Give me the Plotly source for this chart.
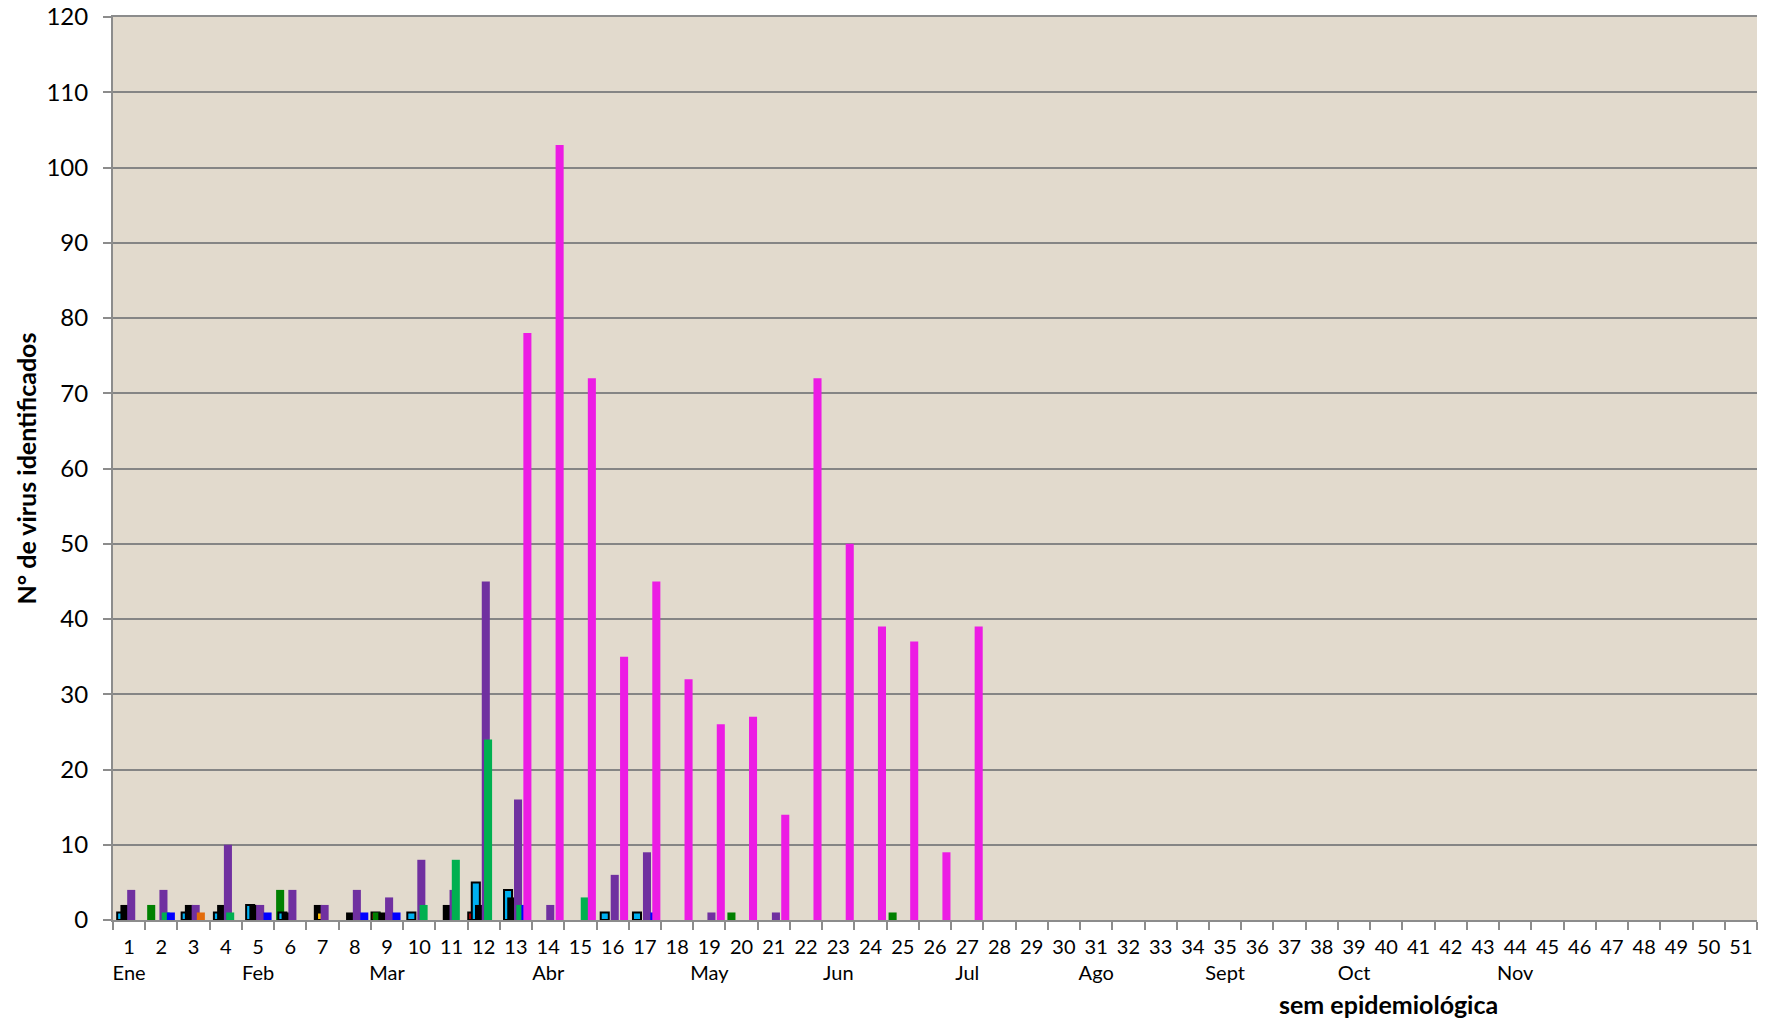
import plotly.graph_objects as go

weeks = [str(i) for i in range(1, 52)]
months = {1: "Ene", 5: "Feb", 9: "Mar", 14: "Abr", 19: "May", 23: "Jun", 27: "Jul",
          31: "Ago", 35: "Sept", 39: "Oct", 44: "Nov"}

def sparse(d):
    return [d.get(i, 0) for i in range(1, 52)]

red_vals = sparse({9: 1, 12: 1})
dark_green_vals = sparse({2: 2, 6: 4, 9: 1, 20: 1, 25: 1})
light_blue_vals = sparse({1: 1, 3: 1, 4: 1, 5: 2, 6: 1, 10: 1, 12: 5, 13: 4, 16: 1, 17: 1})
black_vals = sparse({1: 2, 3: 2, 4: 2, 5: 2, 6: 1, 7: 2, 8: 1, 9: 1, 11: 2, 12: 2, 13: 3})
yellow_vals = sparse({7: 1})
purple_vals = sparse({1: 4, 2: 4, 3: 2, 4: 10, 5: 2, 6: 4, 7: 2, 8: 4, 9: 3, 10: 8, 11: 4,
                      12: 45, 13: 16, 14: 2, 16: 6, 17: 9, 19: 1, 21: 1})
light_green_vals = sparse({2: 1, 4: 1, 10: 2, 11: 8, 12: 24, 13: 2, 15: 3})
orange_vals = sparse({3: 1})
blue_vals = sparse({2: 1, 5: 1, 8: 1, 9: 1, 13: 2, 17: 1})
magenta_vals = sparse({13: 78, 14: 103, 15: 72, 16: 35, 17: 45, 18: 32, 19: 26, 20: 27,
                       21: 14, 22: 72, 23: 50, 24: 39, 25: 37, 26: 9, 27: 39})

series = [
    ("red", red_vals, "#C00000", -0.48, True),
    ("dark_green", dark_green_vals, "#008000", -0.44, False),
    ("light_blue", light_blue_vals, "#00B0F0", -0.37, True),
    ("black", black_vals, "#000000", -0.27, False),
    ("yellow", yellow_vals, "#FFC000", -0.17, True),
    ("purple", purple_vals, "#7030A0", -0.06, False),
    ("light_green", light_green_vals, "#00B050", 0.01, False),
    ("orange", orange_vals, "#E46C0A", 0.10, False),
    ("blue", blue_vals, "#0000FF", 0.17, False),
    ("magenta", magenta_vals, "#EC1CE4", 0.23, False),
]

fig = go.Figure()
for name, vals, color, off, outline in series:
    fig.add_trace(go.Bar(
        x=weeks, y=[v if v else None for v in vals], name=name,
        marker=dict(color=color,
                    line=dict(color="#000000", width=2 if outline else 0)),
        offset=off, width=0.25, showlegend=False,
    ))

ticktext = [f"{w}<br>{months.get(int(w), '')}" for w in weeks]

fig.update_layout(
    width=1767, height=1012,
    margin=dict(l=105, r=18, t=9, b=100),
    paper_bgcolor="white", plot_bgcolor="#E2DACD",
    barmode="overlay",
    font=dict(family="Lato, Calibri, sans-serif", color="#000000"),
    xaxis=dict(type="category", categoryorder="array", categoryarray=weeks,
               tickmode="array", tickvals=weeks, ticktext=ticktext,
               tickson="boundaries", ticks="outside", ticklen=8, tickcolor="#8C8C8C",
               tickwidth=2, showline=True, linecolor="#8C8C8C", linewidth=2,
               mirror=True,
               showgrid=False, tickfont=dict(size=20), tickangle=0,
               ticklabelstandoff=8, automargin=False,
               range=[-0.5, 50.5]),
    yaxis=dict(range=[0, 120], dtick=10, tick0=0, showgrid=True, gridcolor="#858585",
               gridwidth=2, showline=True, linecolor="#8C8C8C", linewidth=2,
               ticks="outside", ticklen=8, tickcolor="#8C8C8C", tickwidth=2,
               tickfont=dict(size=24), ticklabelstandoff=10, zeroline=False,
               ticklabeloverflow="allow", automargin=False),
    annotations=[
        dict(text="<b>N° de virus identificados</b>", xref="paper", yref="paper",
             x=(25 - 113) / 1644, y=0.5, xanchor="center", yanchor="middle",
             textangle=-90, showarrow=False, font=dict(size=25)),
        dict(text="<b>sem epidemiológica</b>", xref="paper", yref="paper",
             x=(1388 - 113) / 1644, y=0, yshift=-84, xanchor="center", yanchor="middle",
             showarrow=False, font=dict(size=25)),
    ],
    shapes=[dict(type="line", xref="paper", yref="paper",
                 x0=(1769 - 113) / 1644, x1=(1769 - 113) / 1644, y0=-0.12, y1=1.03,
                 line=dict(color="#A6A6A6", width=2))],
)

fig.write_html("out.html")
